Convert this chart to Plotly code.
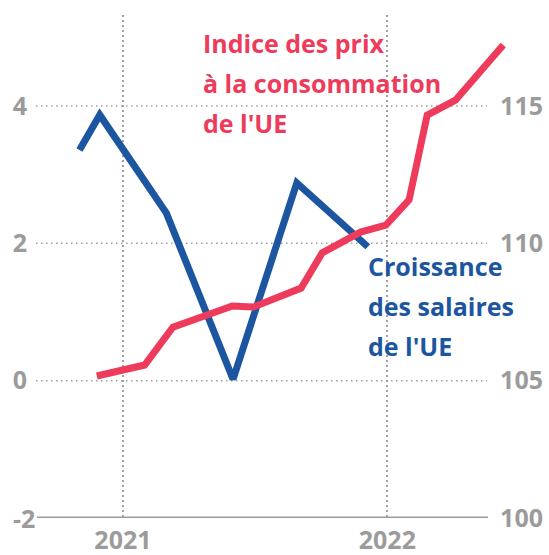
import plotly.graph_objects as go

# ---- data ----
wage_dates = ["2020-11-02", "2020-11-30", "2021-03-02", "2021-06-02", "2021-08-29", "2021-12-05"]
wage_growth = [3.36, 3.87, 2.44, 0.02, 2.88, 1.95]

hicp_dates = ["2020-11-26", "2021-01-31", "2021-03-11", "2021-06-01", "2021-06-30",
              "2021-09-04", "2021-10-03", "2021-11-25", "2021-12-30", "2022-01-31",
              "2022-02-25", "2022-04-05", "2022-06-10"]
hicp_index = [105.17, 105.57, 106.95, 107.72, 107.68, 108.37, 109.65, 110.41,
              110.66, 111.58, 114.67, 115.21, 117.22]

x_tick_vals = ["2021-01-01", "2022-01-01"]
x_tick_text = ["2021", "2022"]
left_ticks = [-2, 0, 2, 4]
right_ticks = [100, 105, 110, 115]

label_hicp = ["Indice des prix", "à la consommation", "de l'UE"]
label_wage = ["Croissance", "des salaires", "de l'UE"]

RED = "#EE3B5B"
BLUE = "#1C55A0"
GREY = "#9B9B9B"
GRID = "#A0A0A0"
FONT = "Open Sans"

fig = go.Figure()
fig.add_trace(go.Scatter(x=hicp_dates, y=hicp_index, yaxis="y2", mode="lines",
                         line=dict(color=RED, width=7), hoverinfo="skip"))
fig.add_trace(go.Scatter(x=wage_dates, y=wage_growth, yaxis="y", mode="lines",
                         line=dict(color=BLUE, width=7), hoverinfo="skip"))

left_range = [-2, 5.325]
right_range = [100 + 2.5 * (left_range[0] + 2), 105 + 2.5 * left_range[1]]

tick_font = dict(family=FONT, size=25, color=GREY, weight=700)

fig.update_layout(
    width=549, height=555,
    margin=dict(l=36, r=3, t=15, b=37, autoexpand=False),
    paper_bgcolor="white", plot_bgcolor="white",
    showlegend=False,
    xaxis=dict(type="date", range=["2020-09-03", "2022-08-08"],
               tickvals=x_tick_vals, ticktext=x_tick_text,
               showgrid=True, gridcolor=GRID, gridwidth=1.5, griddash="1.5px,3.5px",
               zeroline=False, showline=False, ticks="", automargin=False,
               ticklabelstandoff=5,
               tickfont=tick_font),
    yaxis=dict(range=left_range, tickvals=left_ticks[1:],
               showgrid=False, zeroline=False, showline=False, ticks="",
               ticklabelstandoff=8, automargin=False,
               tickfont=tick_font),
    yaxis2=dict(range=right_range, overlaying="y", side="right",
                tickvals=right_ticks, ticklabelposition="inside",
                ticklabeloverflow="allow", automargin=False,
                showgrid=False, zeroline=False, showline=False, ticks="",
                tickfont=tick_font),
)

# horizontal dotted gridlines (shortened like the reference)
grid_end = (487 - 36) / 510
for v in left_ticks[1:]:
    fig.add_shape(type="line", xref="paper", yref="y", x0=0, x1=grid_end, y0=v, y1=v,
                  line=dict(color=GRID, width=1.5, dash="1.5px,3.5px"), layer="below")
# bottom axis line
fig.add_shape(type="line", xref="paper", yref="y", x0=0.002, x1=grid_end + 0.002,
              y0=left_ticks[0], y1=left_ticks[0], line=dict(color=GREY, width=3))
# "-2" label next to the axis line start
fig.add_annotation(x=0, y=left_ticks[0], xref="paper", yref="y", text=str(left_ticks[0]),
                   showarrow=False, xanchor="right", yanchor="middle", xshift=1,
                   font=tick_font)

ys_red = [0.9443, 0.8648, 0.7853]
ys_blue = [0.501, 0.4215, 0.342]
for txt, yy in zip(label_hicp, ys_red):
    fig.add_annotation(x=(201 - 36) / 510, y=yy, xref="paper", yref="paper", text=txt,
                       showarrow=False, xanchor="left", yanchor="middle",
                       font=dict(family=FONT, size=25, color=RED, weight=700))
for txt, yy in zip(label_wage, ys_blue):
    fig.add_annotation(x=(366 - 36) / 510, y=yy, xref="paper", yref="paper", text=txt,
                       showarrow=False, xanchor="left", yanchor="middle",
                       font=dict(family=FONT, size=25, color=BLUE, weight=700))

fig.write_html("out.html", config={"displayModeBar": False},
               post_script="document.body.style.margin='0';")
